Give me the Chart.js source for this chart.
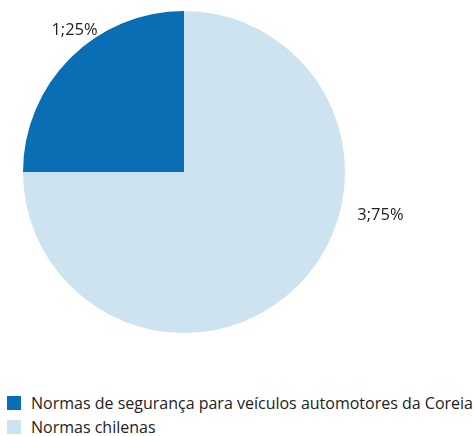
<!DOCTYPE html>
<html>
<head>
<meta charset="utf-8">
<script src="https://cdn.jsdelivr.net/npm/chart.js@4"></script>
<style>
  html, body { margin: 0; padding: 0; background: #fff; }
  #wrap { position: relative; width: 474px; height: 436px; }
  #chart { position: absolute; left: 0; top: 0; }
  #legend { position: absolute; left: 7px; top: 391px; font-family: "Open Sans", "Noto Sans", sans-serif; font-size: 16px; color: #222; }
  .item { display: flex; align-items: center; height: 24px; }
  .box { width: 14px; height: 14px; margin-right: 10px; }
</style>
</head>
<body>
<div id="wrap">
  <canvas id="chart" width="474" height="380"></canvas>
  <div id="legend"></div>
</div>
<script>
const categories = ['Normas de segurança para veículos automotores da Coreia', 'Normas chilenas'];
const values = [1, 3];
const sliceLabels = ['1;25%', '3;75%'];
const colors = ['#0a6eb4', '#cde4f0'];
// label spot as multiples of the radius from the pie centre
const labelSpots = [[-0.68, -0.88], [1.22, 0.27]];

document.getElementById('legend').innerHTML = categories.map((c, i) =>
  `<div class="item"><span class="box" style="background:${colors[i]}"></span>${c}</div>`
).join('');

const sliceText = {
  id: 'sliceText',
  afterDatasetsDraw(chart) {
    const ctx = chart.ctx;
    const arcs = chart.getDatasetMeta(0).data;
    ctx.save();
    ctx.font = '16.5px "Open Sans", "Noto Sans", sans-serif';
    ctx.fillStyle = '#222';
    ctx.textAlign = 'center';
    ctx.textBaseline = 'middle';
    arcs.forEach((arc, i) => {
      const r = arc.outerRadius;
      ctx.fillText(sliceLabels[i], arc.x + labelSpots[i][0] * r, arc.y + labelSpots[i][1] * r);
    });
    ctx.restore();
  }
};

new Chart(document.getElementById('chart'), {
  type: 'pie',
  data: {
    labels: categories,
    datasets: [{ data: values, backgroundColor: colors, borderWidth: 0 }]
  },
  options: {
    responsive: false,
    animation: false,
    rotation: -90,
    layout: { padding: { left: 23, right: 129, top: 11, bottom: 47 } },
    plugins: { legend: { display: false }, tooltip: { enabled: false } }
  },
  plugins: [sliceText]
});
</script>
</body>
</html>
